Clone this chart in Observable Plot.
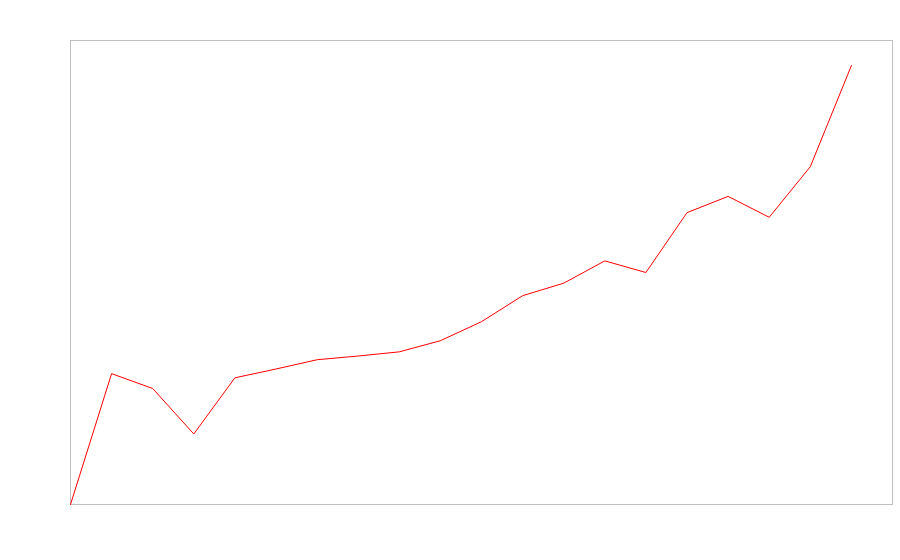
<!DOCTYPE html>
<html>
<head>
<meta charset="utf-8">
<script src="https://cdn.jsdelivr.net/npm/d3@7"></script>
<script src="https://cdn.jsdelivr.net/npm/@observablehq/plot@0.6"></script>
<style>
  html, body { margin: 0; padding: 0; background: #fff; }
</style>
</head>
<body>
<div id="chart"></div>
<script>
const xIndex = [0, 1, 2, 3, 4, 5, 6, 7, 8, 9, 10, 11, 12, 13, 14, 15, 16, 17, 18, 19];
const values = [0, 28.2, 25.0, 15.2, 27.3, 29.2, 31.2, 32.0, 32.9, 35.3, 39.4, 45.0, 47.7, 52.5, 50.0, 62.9, 66.4, 61.9, 72.8, 94.6];

const data = xIndex.map((x, i) => ({x, y: values[i]}));

const chart = Plot.plot({
  width: 900,
  height: 560,
  marginLeft: 70,
  marginRight: 8,
  marginTop: 40,
  marginBottom: 56,
  x: {domain: [0, 20], axis: null},
  y: {domain: [0, 100], axis: null},
  marks: [
    Plot.frame({stroke: "#c0c0c0", strokeWidth: 1}),
    Plot.line(data, {x: "x", y: "y", stroke: "red", strokeWidth: 1})
  ]
});
document.getElementById("chart").appendChild(chart);
</script>
</body>
</html>
